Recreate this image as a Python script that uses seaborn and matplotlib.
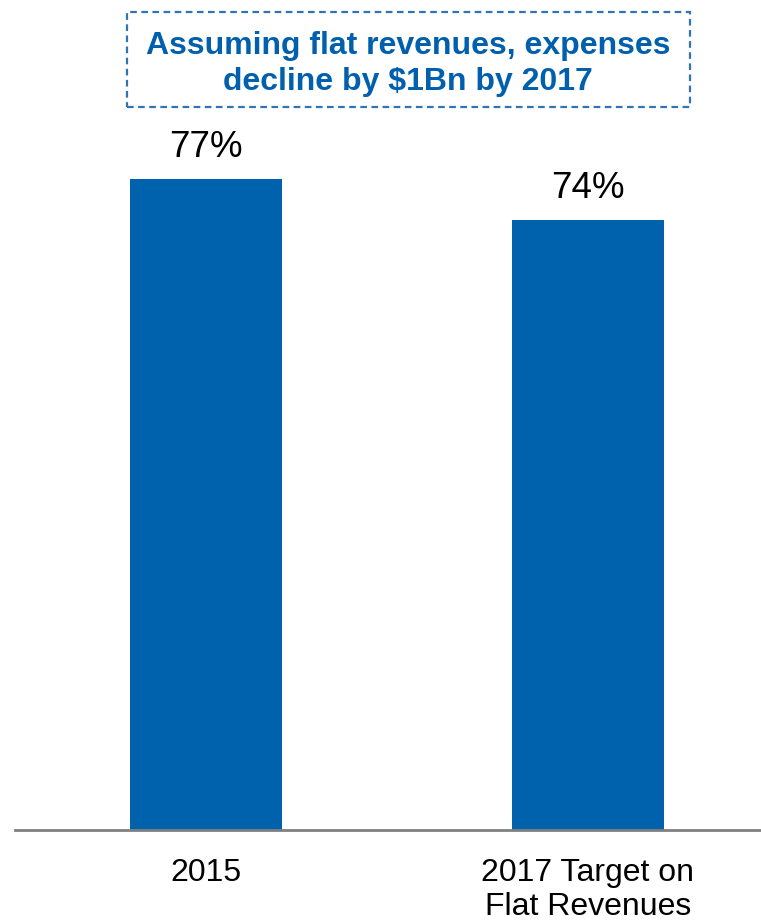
import matplotlib
matplotlib.use("Agg")
import matplotlib.pyplot as plt
import seaborn as sns
import pandas as pd
from matplotlib.patches import FancyBboxPatch

categories = ["2015", "2017 Target on\nFlat Revenues"]
values = [77, 74]
labels = ["77%", "74%"]
title_text = "Assuming flat revenues, expenses\ndecline by $1Bn by 2017"

sns.set_theme(style="white")
plt.rcParams['font.family'] = ['Liberation Sans', 'DejaVu Sans']

W, H = 761, 922
fig = plt.figure(figsize=(W / 100, H / 100), dpi=100)
ax = fig.add_axes([15 / W, 92 / H, (W - 15) / W, (830) / H])

df = pd.DataFrame({"cat": categories, "val": values})
sns.barplot(data=df, x="cat", y="val", color="#0062AD", saturation=1, width=0.398,
            linewidth=0, ax=ax)

ax.set_xlim(-0.5, 1.453)
ax.set_ylim(29.4, 90.1)
for s in ["top", "right", "left"]:
    ax.spines[s].set_visible(False)
ax.spines["bottom"].set_color("#808080")
ax.spines["bottom"].set_linewidth(2)
ax.set_yticks([])
ax.set_xlabel("")
ax.set_ylabel("")
ax.tick_params(axis="x", length=0, pad=20, labelsize=23, labelcolor="black")
for t in ax.get_xticklabels():
    t.set_linespacing(1.2)

for i, (v, lab) in enumerate(zip(values, labels)):
    ax.annotate(lab, (i, v), xytext=(0, 10), textcoords="offset points",
                ha="center", va="bottom", fontsize=26.5, color="black")

# dashed title box
box = FancyBboxPatch((127 / W, 1 - 107 / H), (690 - 127) / W, (107 - 12) / H,
                     boxstyle="square,pad=0", transform=fig.transFigure,
                     fill=False, edgecolor="#2E75B6", linewidth=1.6,
                     linestyle=(0, (3, 2)))
fig.patches.append(box)
fig.text(408 / W, 1 - 64 / H, title_text, ha="center", va="center",
         fontsize=23, fontweight="bold", color="#0060AE", linespacing=1.25)

fig.savefig("out.png", dpi=100)
